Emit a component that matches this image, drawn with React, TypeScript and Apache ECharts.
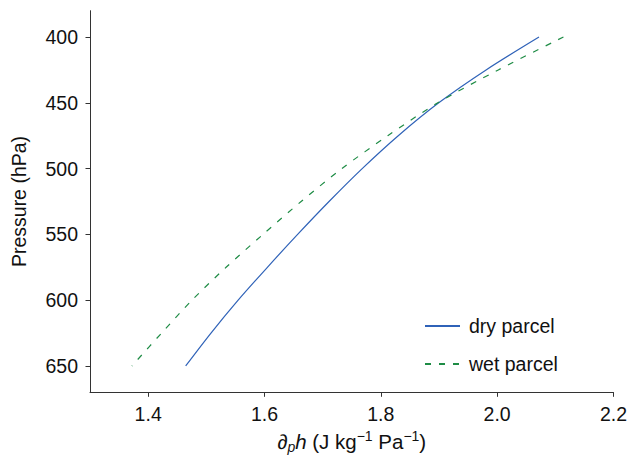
import React, { useEffect, useRef } from "react";
import * as echarts from "echarts";

const pressures = [400, 425, 450, 475, 500, 525, 550, 575, 600, 625, 650];
const dryParcel = [2.072, 1.981, 1.8996, 1.830, 1.768, 1.711, 1.657, 1.605, 1.5547, 1.508, 1.4645];
const wetParcel = [2.114, 2.002, 1.898, 1.812, 1.733, 1.663, 1.5975, 1.534, 1.4753, 1.423, 1.372];
const xTicks = [1.4, 1.6, 1.8, 2.0, 2.2];
const yTicks = [400, 450, 500, 550, 600, 650];

const FONT = "'Liberation Sans', Arial, Helvetica, sans-serif";
const AXIS_COLOR = "#333333";
const FS = 19.5;
const NFS = 20.5;

export default function App() {
  const ref = useRef<HTMLDivElement>(null);
  useEffect(() => {
    if (!ref.current) return;
    const chart = echarts.init(ref.current, undefined, { renderer: "svg" });
    const dryData = pressures.map((p, i) => [dryParcel[i], p]);
    const wetData = pressures.map((p, i) => [wetParcel[i], p]);
    chart.setOption({
      animation: false,
      textStyle: { fontFamily: FONT },
      grid: { left: 90, right: 15, top: 10.7, bottom: 68.7, containLabel: false },
      legend: {
        orient: "vertical",
        left: 424,
        top: 316,
        padding: 0,
        itemWidth: 35,
        itemHeight: 14,
        itemGap: 18,
        itemStyle: { color: "transparent", borderWidth: 0, opacity: 0 },
        textStyle: { fontSize: FS, color: "#111", fontFamily: FONT, padding: [0, 0, 0, 4] },
        data: ["dry parcel", "wet parcel"],
      },
      xAxis: {
        type: "value",
        min: 1.3,
        max: 2.2,
        name: "{d|∂}{sub|p}{i|h}{n| (J kg}{sup|−1}{n| Pa}{sup|−1}{n|)}",
        nameLocation: "middle",
        nameGap: 35,
        nameTextStyle: {
          rich: {
            d: { fontSize: NFS, fontFamily: FONT, color: "#111", lineHeight: 25 },
            i: { fontSize: NFS, fontFamily: FONT, fontStyle: "italic", color: "#111", lineHeight: 25 },
            n: { fontSize: NFS, fontFamily: FONT, color: "#111", lineHeight: 25 },
            sub: { fontSize: 14, fontFamily: FONT, fontStyle: "italic", color: "#111", lineHeight: 14, verticalAlign: "bottom" },
            sup: { fontSize: 14, fontFamily: FONT, color: "#111", lineHeight: 14, verticalAlign: "top" },
          },
        },
        axisLine: { onZero: false, lineStyle: { color: AXIS_COLOR, width: 1 } },
        axisTick: { length: 4.5, lineStyle: { color: AXIS_COLOR }, customValues: xTicks },
        axisLabel: {
          fontSize: FS,
          color: "#111",
          margin: 12,
          customValues: xTicks,
          formatter: (v: number) => v.toFixed(1),
        },
        splitLine: { show: false },
      },
      yAxis: {
        type: "value",
        inverse: true,
        min: 380,
        max: 670,
        name: "Pressure (hPa)",
        nameLocation: "middle",
        nameGap: 61,
        nameTextStyle: { fontSize: FS, color: "#111", fontFamily: FONT },
        axisLine: { show: true, onZero: false, lineStyle: { color: AXIS_COLOR, width: 1 } },
        axisTick: { show: true, length: 4.5, lineStyle: { color: AXIS_COLOR }, customValues: yTicks },
        axisLabel: { fontSize: FS, color: "#111", margin: 12, customValues: yTicks },
        splitLine: { show: false },
      },
      series: [
        {
          name: "dry parcel",
          type: "line",
          data: dryData,
          symbol: "none",
          smooth: 0.3,
          lineStyle: { color: "#2f62b8", width: 1.2 },
          itemStyle: { color: "#2f62b8" },
        },
        {
          name: "wet parcel",
          type: "line",
          data: wetData,
          symbol: "none",
          smooth: 0.3,
          lineStyle: { color: "#1e8c45", width: 1.2, type: [6, 8] },
          itemStyle: { color: "#1e8c45" },
        },
      ],
    });
    return () => chart.dispose();
  }, []);
  return (
    <div
      ref={ref}
      style={{ position: "absolute", left: 0, top: 0, width: 630, height: 461 }}
    />
  );
}
